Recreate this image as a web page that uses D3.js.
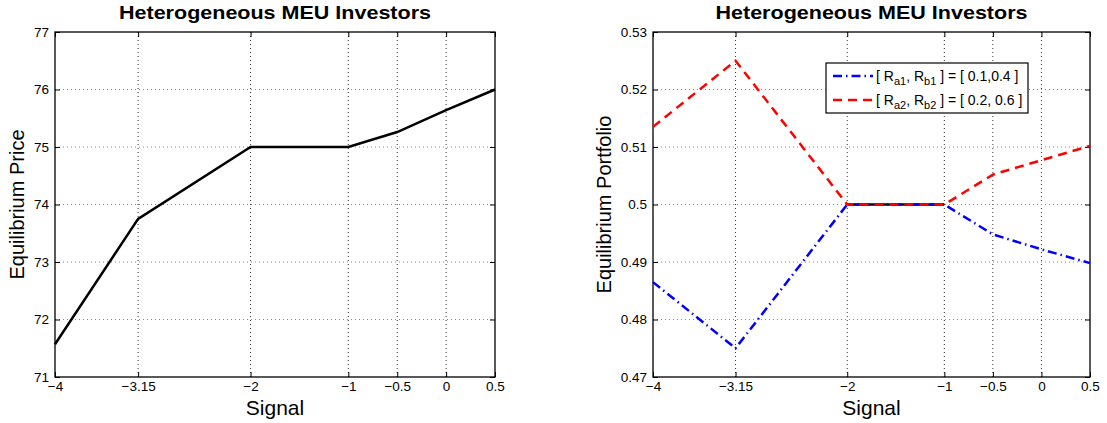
<!DOCTYPE html>
<html><head><meta charset="utf-8">
<script src="https://cdn.jsdelivr.net/npm/d3@7"></script>
<style>body{margin:0;background:#fff}text{font-family:"Liberation Sans",Arial,sans-serif}</style>
</head><body>
<svg id="c" width="1107" height="423"></svg>
<script>
const signal = [-4, -3.15, -2, -1, -0.5, 0, 0.5];
const xTicks = [-4, -3.15, -2, -1, -0.5, 0, 0.5];
const price = [71.57, 73.75, 75, 75, 75.26, 75.64, 76];
const priceTicks = [71, 72, 73, 74, 75, 76, 77];
const portfolio1 = [0.4865, 0.475, 0.5, 0.5, 0.4948, 0.4922, 0.4898];
const portfolio2 = [0.5135, 0.525, 0.5, 0.5, 0.5052, 0.5077, 0.5102];
const flatX = [-2, -1];
const flatY = [0.5, 0.5];
const portTicks = [0.47, 0.48, 0.49, 0.5, 0.51, 0.52, 0.53];
const titleText = "Heterogeneous MEU Investors";

const svg = d3.select("#c");

function panel(x0, x1, y0, y1, yDomain, yTicks, yLabel, yLabelX) {
  const g = svg.append("g");
  const x = d3.scaleLinear().domain([-4, 0.5]).range([x0, x1]);
  const y = d3.scaleLinear().domain(yDomain).range([y1, y0]);
  g.selectAll(".vg").data(xTicks.slice(1, -1)).join("line")
    .attr("x1", d => x(d)).attr("x2", d => x(d)).attr("y1", y0).attr("y2", y1)
    .attr("stroke", "#333").attr("stroke-width", 1).attr("stroke-dasharray", "1,3");
  g.selectAll(".hg").data(yTicks.slice(1, -1)).join("line")
    .attr("y1", d => y(d)).attr("y2", d => y(d)).attr("x1", x0).attr("x2", x1)
    .attr("stroke", "#888").attr("stroke-width", 1).attr("stroke-dasharray", "1,3");
  const ax = d3.axisBottom(x).tickValues(xTicks).tickSize(-5).tickPadding(4).tickFormat(d => String(d).replace("-", "\u2212"));
  const ay = d3.axisLeft(y).tickValues(yTicks).tickSize(-5).tickPadding(6).tickFormat(d => String(d));
  const axt = d3.axisTop(x).tickValues(xTicks).tickSize(-5).tickFormat("");
  const ayr = d3.axisRight(y).tickValues(yTicks).tickSize(-5).tickFormat("");
  [[ax, `translate(0,${y1})`], [ay, `translate(${x0},0)`], [axt, `translate(0,${y0})`], [ayr, `translate(${x1},0)`]].forEach(([a, t]) => {
    const s = g.append("g").attr("transform", t).call(a);
    s.select(".domain").remove();
    s.selectAll("line").attr("stroke", "#000");
    s.selectAll("text").attr("font-size", 13.5).attr("fill", "#000");
  });
  g.append("rect").attr("x", x0).attr("y", y0).attr("width", x1 - x0).attr("height", y1 - y0)
    .attr("fill", "none").attr("stroke", "#000").attr("stroke-width", 1.3);
  g.append("text").attr("x", (x0 + x1) / 2 - 156).attr("y", 18.5)
    .attr("font-size", 18.5).attr("font-weight", "bold")
    .attr("textLength", 312).attr("lengthAdjust", "spacingAndGlyphs").text(titleText);
  g.append("text").attr("x", (x0 + x1) / 2).attr("y", 415).attr("text-anchor", "middle")
    .attr("font-size", 21).text("Signal");
  g.append("text").attr("transform", `translate(${yLabelX},${(y0 + y1) / 2}) rotate(-90)`).attr("text-anchor", "middle")
    .attr("font-size", 20).text(yLabel);
  return {g, x, y};
}

const L = panel(55, 495, 32, 377, [71, 77], priceTicks, "Equilibrium Price", 24);
L.g.append("path").datum(signal.map((s, i) => [s, price[i]]))
  .attr("d", d3.line().x(d => L.x(d[0])).y(d => L.y(d[1])))
  .attr("fill", "none").attr("stroke", "#000").attr("stroke-width", 2.5);

const R = panel(653, 1090, 32, 377, [0.47, 0.53], portTicks, "Equilibrium Portfolio", 611);
const line = d3.line().x(d => R.x(d[0])).y(d => R.y(d[1]));
R.g.append("path").datum(flatX.map((s, i) => [s, flatY[i]]))
  .attr("d", line).attr("fill", "none").attr("stroke", "#000").attr("stroke-width", 2.5);
R.g.append("path").datum(signal.map((s, i) => [s, portfolio1[i]]))
  .attr("d", line).attr("fill", "none").attr("stroke", "#0000ff").attr("stroke-width", 2.5)
  .attr("stroke-dasharray", "9,4,1.5,4");
R.g.append("path").datum(signal.map((s, i) => [s, portfolio2[i]]))
  .attr("d", line).attr("fill", "none").attr("stroke", "#ff0000").attr("stroke-width", 2.5)
  .attr("stroke-dasharray", "9,6");

const lg = svg.append("g");
lg.append("rect").attr("x", 826).attr("y", 63).attr("width", 202).attr("height", 50)
  .attr("fill", "#fff").attr("stroke", "#000").attr("stroke-width", 1.2);
const items = [
  {c: "#0000ff", dash: "9,4,1.5,4", a: "a1", b: "b1", v: " ] = [ 0.1,0.4 ]"},
  {c: "#ff0000", dash: "9,6", a: "a2", b: "b2", v: " ] = [ 0.2, 0.6 ]"}
];
items.forEach((it, i) => {
  const yy = 76 + i * 24;
  lg.append("line").attr("x1", 833).attr("x2", 873).attr("y1", yy).attr("y2", yy)
    .attr("stroke", it.c).attr("stroke-width", 2.5).attr("stroke-dasharray", it.dash);
  const t = lg.append("text").attr("x", 876).attr("y", yy + 5).attr("font-size", 14);
  t.append("tspan").text("[ R");
  t.append("tspan").attr("font-size", 11).attr("dy", 4).text(it.a);
  t.append("tspan").attr("dy", -4).text(", R");
  t.append("tspan").attr("font-size", 11).attr("dy", 4).text(it.b);
  t.append("tspan").attr("dy", -4).text(it.v);
});
</script>
</body></html>
